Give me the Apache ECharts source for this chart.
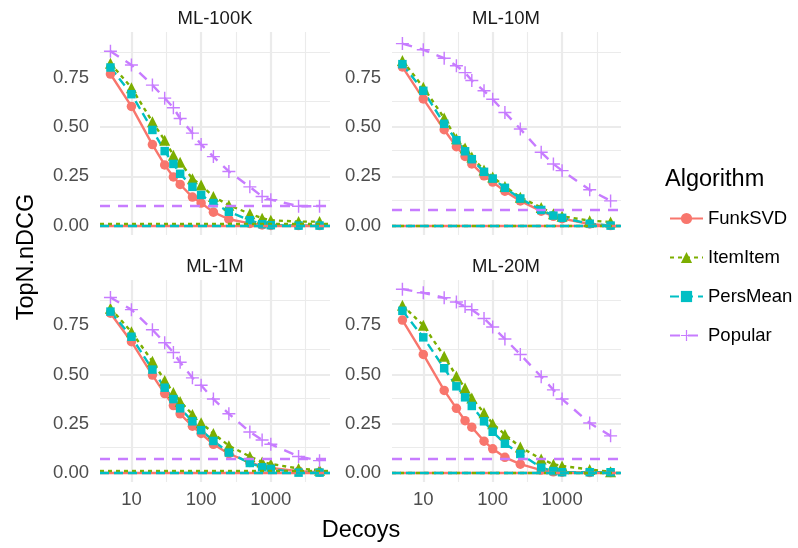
<!DOCTYPE html>
<html>
<head>
<meta charset="utf-8">
<script src="https://cdn.jsdelivr.net/npm/echarts@6/dist/echarts.min.js"></script>
<style>
  html, body { margin: 0; background: #fff; }
  #chart { width: 798px; height: 548px; }
</style>
</head>
<body>
<div id="chart"></div>
<script>
// x values shared by all four panels
const decoys = [5, 10, 20, 30, 40, 50, 75, 100, 150, 250, 500, 750, 1000, 2500, 5000];
const datasets = ['ML-100K', 'ML-10M', 'ML-1M', 'ML-20M'];
const algorithms = ['FunkSVD', 'ItemItem', 'PersMean', 'Popular'];
const yTicks = [0, 0.25, 0.5, 0.75];
const yMinorTicks = [0.125, 0.375, 0.625, 0.875];
const xMinorTicks = [31.62, 316.2, 3162];

// TopN.nDCG
const ml100kFunkSVD  = [0.768, 0.604, 0.411, 0.308, 0.247, 0.209, 0.145, 0.115, 0.069, 0.033, 0.012, 0.004, 0.002, 0.001, 0.001];
const ml100kItemItem = [0.822, 0.699, 0.526, 0.433, 0.357, 0.321, 0.238, 0.206, 0.148, 0.104, 0.061, 0.038, 0.028, 0.021, 0.021];
const ml100kPersMean = [0.801, 0.666, 0.485, 0.378, 0.313, 0.263, 0.197, 0.156, 0.115, 0.071, 0.028, 0.008, 0.003, 0.001, 0.001];
const ml100kPopular  = [0.883, 0.814, 0.712, 0.646, 0.597, 0.543, 0.469, 0.411, 0.350, 0.275, 0.197, 0.148, 0.132, 0.099, 0.099];

const ml10mFunkSVD  = [0.804, 0.642, 0.486, 0.400, 0.351, 0.313, 0.253, 0.221, 0.175, 0.126, 0.074, 0.048, 0.036, 0.009, 0.001];
const ml10mItemItem = [0.836, 0.701, 0.545, 0.441, 0.394, 0.348, 0.282, 0.247, 0.199, 0.144, 0.092, 0.061, 0.048, 0.026, 0.019];
const ml10mPersMean = [0.818, 0.683, 0.516, 0.433, 0.377, 0.337, 0.273, 0.239, 0.192, 0.138, 0.080, 0.052, 0.040, 0.010, 0.001];
const ml10mPopular  = [0.922, 0.891, 0.848, 0.810, 0.775, 0.735, 0.683, 0.640, 0.573, 0.490, 0.372, 0.313, 0.279, 0.182, 0.126];

const ml1mFunkSVD  = [0.812, 0.667, 0.497, 0.403, 0.342, 0.300, 0.237, 0.200, 0.145, 0.097, 0.053, 0.033, 0.025, 0.008, 0.003];
const ml1mItemItem = [0.837, 0.717, 0.567, 0.470, 0.408, 0.363, 0.297, 0.255, 0.200, 0.138, 0.083, 0.055, 0.045, 0.022, 0.013];
const ml1mPersMean = [0.820, 0.692, 0.525, 0.433, 0.375, 0.328, 0.262, 0.217, 0.162, 0.103, 0.050, 0.028, 0.020, 0.001, 0.001];
const ml1mPopular  = [0.892, 0.830, 0.728, 0.662, 0.612, 0.562, 0.483, 0.445, 0.375, 0.300, 0.208, 0.167, 0.145, 0.083, 0.062];

const ml20mFunkSVD  = [0.777, 0.602, 0.419, 0.328, 0.265, 0.232, 0.161, 0.122, 0.079, 0.044, 0.014, 0.005, 0.003, 0.001, 0.001];
const ml20mItemItem = [0.852, 0.750, 0.593, 0.492, 0.431, 0.380, 0.305, 0.250, 0.195, 0.131, 0.070, 0.044, 0.035, 0.017, 0.005];
const ml20mPersMean = [0.824, 0.689, 0.532, 0.440, 0.384, 0.340, 0.262, 0.209, 0.148, 0.096, 0.026, 0.009, 0.003, 0.003, 0.003];
const ml20mPopular  = [0.934, 0.916, 0.890, 0.869, 0.846, 0.829, 0.785, 0.742, 0.681, 0.602, 0.489, 0.422, 0.375, 0.253, 0.188];

// horizontal reference lines, order as in algorithms
const baseML100K = [0.002, 0.013, 0.001, 0.099];
const baseML10M  = [0.001, 0.002, 0.001, 0.080];
const baseML1M   = [0.002, 0.008, 0.001, 0.067];
const baseML20M  = [0.001, 0.001, 0.001, 0.073];

const values = [
  [ml100kFunkSVD, ml100kItemItem, ml100kPersMean, ml100kPopular],
  [ml10mFunkSVD, ml10mItemItem, ml10mPersMean, ml10mPopular],
  [ml1mFunkSVD, ml1mItemItem, ml1mPersMean, ml1mPopular],
  [ml20mFunkSVD, ml20mItemItem, ml20mPersMean, ml20mPopular]
];
const baselines = [baseML100K, baseML10M, baseML1M, baseML20M];

const FONT = '"Liberation Sans", Arial, sans-serif';
const GRID_COLOR = '#EBEBEB';
const plus = 'path://M-0.11,-1H0.11V-0.11H1V0.11H0.11V1H-0.11V0.11H-1V-0.11H-0.11Z';
const styles = [
  { color: '#F8766D', dash: 'solid', symbol: 'circle', size: 9.5 },
  { color: '#7CAE00', dash: [4, 4], symbol: 'triangle', size: 11 },
  { color: '#00BFC4', dash: [9, 5], symbol: 'rect', size: 8.5 },
  { color: '#C77CFF', dash: [10, 8], symbol: plus, size: 13 }
];

// ggplot-like 5% expansion of the data range
const allVals = values.flat(2).concat(baselines.flat());
const yHi = Math.max(...allVals), yLo = Math.min(0, ...allVals);
const yPad = (yHi - yLo) * 0.05;
const yMin = yLo - yPad, yMax = yHi + yPad;
const lx0 = Math.log10(decoys[0]), lx1 = Math.log10(decoys[decoys.length - 1]);
const xPad = (lx1 - lx0) * 0.05;
const xMin = Math.pow(10, lx0 - xPad), xMax = Math.pow(10, lx1 + xPad);

const grids = [
  { left: 100, top: 32, width: 230, height: 203 },
  { left: 392, top: 32, width: 229, height: 203 },
  { left: 100, top: 280, width: 230, height: 202 },
  { left: 392, top: 280, width: 229, height: 202 }
];

const xAxes = grids.map((g, i) => ({
  type: 'log', logBase: 10, gridIndex: i, min: xMin, max: xMax,
  axisLine: { show: false }, axisTick: { show: false },
  axisLabel: {
    show: i >= 2, showMinLabel: false, showMaxLabel: false,
    formatter: v => String(v), color: '#4D4D4D', fontSize: 18.5, fontFamily: FONT, margin: 8
  },
  splitLine: { show: true, showMinLine: false, showMaxLine: false, lineStyle: { color: GRID_COLOR, width: 2.2 } }
}));

const yAxes = grids.map((g, i) => ({
  type: 'value', gridIndex: i, min: yMin, max: yMax,
  axisLine: { show: false },
  axisTick: { show: false, customValues: yTicks },
  axisLabel: {
    customValues: yTicks, formatter: v => v.toFixed(2),
    color: '#4D4D4D', fontSize: 18.5, fontFamily: FONT, margin: 11
  },
  splitLine: { show: true, showMinLine: false, showMaxLine: false, lineStyle: { color: GRID_COLOR, width: 2.2 } }
}));

const series = [];
// minor grid lines
grids.forEach((g, i) => {
  series.push({
    type: 'line', xAxisIndex: i, yAxisIndex: i, data: [], silent: true, z: 1,
    markLine: {
      silent: true, symbol: ['none', 'none'], label: { show: false }, z: 1, animation: false,
      lineStyle: { color: GRID_COLOR, width: 1.1, type: 'solid' },
      data: xMinorTicks.map(v => ({ xAxis: v })).concat(yMinorTicks.map(v => ({ yAxis: v })))
    }
  });
});

datasets.forEach((ds, i) => {
  algorithms.forEach((alg, k) => {
    const s = styles[k];
    series.push({
      name: alg, type: 'line', xAxisIndex: i, yAxisIndex: i,
      data: decoys.map((d, j) => [d, values[i][k][j]]),
      symbol: s.symbol, symbolSize: s.size, showSymbol: true, showAllSymbol: true,
      lineStyle: { color: s.color, width: 2.4, type: s.dash },
      itemStyle: { color: s.color, borderWidth: 0 },
      markLine: {
        silent: true, symbol: ['none', 'none'], label: { show: false }, animation: false,
        lineStyle: { color: s.color, width: 2.4, type: s.dash },
        data: [{ yAxis: baselines[i][k] }]
      }
    });
  });
});

const textEl = (txt, x, y, size, fill, rot) => ({
  type: 'text', x: x, y: y, rotation: rot || 0,
  style: { text: txt, font: size + 'px ' + FONT, fill: fill, textAlign: 'center', textVerticalAlign: 'middle' }
});

const chart = echarts.init(document.getElementById('chart'));
chart.setOption({
  animation: false,
  backgroundColor: '#fff',
  title: {
    text: 'Algorithm', left: 660, top: 163,
    textStyle: { fontSize: 23.5, fontWeight: 'normal', color: '#000', fontFamily: FONT }
  },
  legend: {
    data: algorithms, orient: 'vertical', left: 664, top: 204,
    itemWidth: 33, itemHeight: 14, itemGap: 20,
    textStyle: { fontSize: 18.5, color: '#000', fontFamily: FONT }
  },
  grid: grids,
  xAxis: xAxes,
  yAxis: yAxes,
  series: series,
  graphic: [
    textEl('ML-100K', 215, 19, 18.5, '#1A1A1A'),
    textEl('ML-10M', 506, 19, 18.5, '#1A1A1A'),
    textEl('ML-1M', 215, 267, 18.5, '#1A1A1A'),
    textEl('ML-20M', 506, 267, 18.5, '#1A1A1A'),
    textEl('Decoys', 361, 531, 23.5, '#000'),
    textEl('TopN.nDCG', 27, 257, 23.5, '#000', Math.PI / 2)
  ]
});
</script>
</body>
</html>
